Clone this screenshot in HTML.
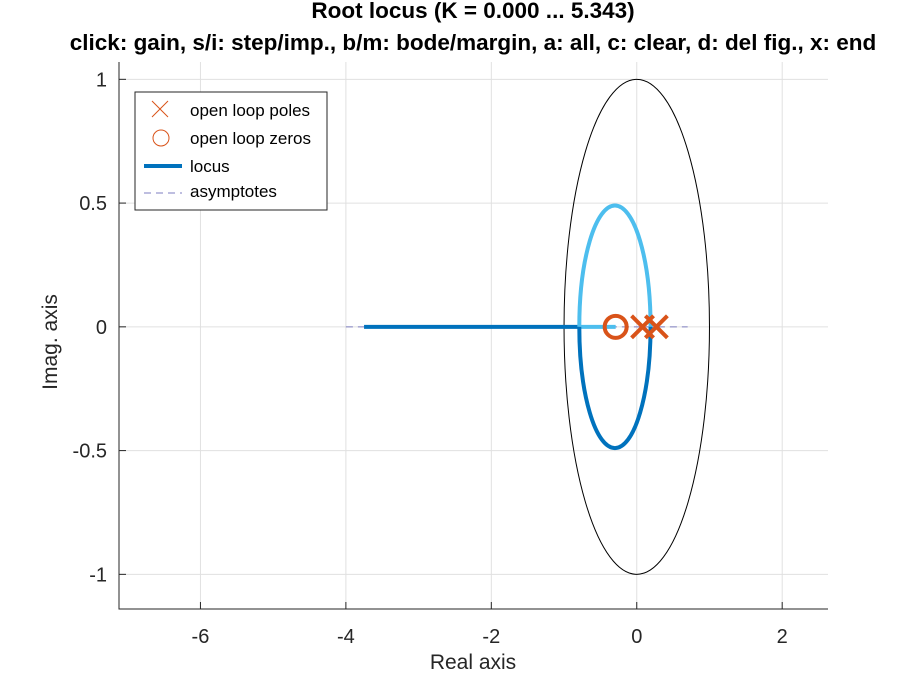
<!DOCTYPE html>
<html><head><meta charset="utf-8"><style>
body{margin:0;background:#fff}
svg text{font-family:"Liberation Sans",Arial,sans-serif}
</style></head><body>
<svg id="c" width="915" height="685" xmlns="http://www.w3.org/2000/svg">
<text x="473" y="18" text-anchor="middle" font-size="22.5" font-weight="bold" fill="#000">Root locus (K = 0.000 ... 5.343)</text>
<text x="473" y="50" text-anchor="middle" font-size="22.5" font-weight="bold" fill="#000">click: gain, s/i: step/imp., b/m: bode/margin, a: all, c: clear, d: del fig., x: end</text>
<g id="grid"></g><g id="marks"></g><g id="axes"></g>
<text x="473" y="669" text-anchor="middle" font-size="21" fill="#262626">Real axis</text>
<text transform="translate(57,342) rotate(-90)" text-anchor="middle" font-size="21" fill="#262626">Imag. axis</text>
<g>
<rect x="135" y="92" width="192" height="118" fill="#fff" stroke="#262626" stroke-width="1"/>
<g><path d="M152,101 L168,117 M168,101 L152,117" stroke="#d95319" stroke-width="1"/><text x="190" y="116" font-size="17" fill="#000">open loop poles</text></g>
<g><circle cx="161" cy="138" r="8" fill="none" stroke="#d95319" stroke-width="1"/><text x="190" y="144" font-size="17" fill="#000">open loop zeros</text></g>
<g><line x1="144" y1="166" x2="182" y2="166" stroke="#0072bd" stroke-width="4"/><text x="190" y="172" font-size="17" fill="#000">locus</text></g>
<g><line x1="144" y1="193" x2="182" y2="193" stroke="#7e7ec0" stroke-width="1" stroke-dasharray="7,5"/><text x="190" y="197" font-size="17" fill="#000">asymptotes</text></g>
</g>
</svg>
<script>
const xTicks=[-6,-4,-2,0,2];
const yTicks=[-1,-0.5,0,0.5,1];
const yTickLabels=["-1","-0.5","0","0.5","1"];
const poles=[0.08,0.27];
const zeros=[-0.29];
const realLocusStart=-3.75, breakIn=-0.79, breakOut=0.19;
const locusCenter=-0.3, locusRadius=0.49;
const asymptoteRange=[-4,0.7];
const unitEllipse=[1,1];
const xDom=[-7.12,2.63], yDom=[-1.14,1.07];
const L=119,R=828,T=62,B=609;
const X=v=>L+(v-xDom[0])/(xDom[1]-xDom[0])*(R-L);
const Y=v=>B-(v-yDom[0])/(yDom[1]-yDom[0])*(B-T);
const NS="http://www.w3.org/2000/svg";
function mk(p,tag,a){const e=document.createElementNS(NS,tag);for(const k in a)e.setAttribute(k,a[k]);document.getElementById(p).appendChild(e);return e;}
xTicks.forEach((t,i)=>{
 let g=mk('grid','line',{x1:X(t),x2:X(t),y1:T,y2:B,stroke:'#e0e0e0','stroke-width':1});
 
 
 let k=mk('axes','line',{x1:X(t),x2:X(t),y1:B,y2:B-7,stroke:'#262626'});
 
 
 let l=mk('axes','text',{x:X(t),y:B+34,'text-anchor':'middle','font-size':20,fill:'#262626'});l.textContent=String(t);
 
 
});
yTicks.forEach((t,i)=>{
 let g=mk('grid','line',{x1:L,x2:R,y1:Y(t),y2:Y(t),stroke:'#e0e0e0','stroke-width':1});
 
 
 let k=mk('axes','line',{x1:L,x2:L+7,y1:Y(t),y2:Y(t),stroke:'#262626'});
 
 
 let l=mk('axes','text',{x:L-12,y:Y(t)+7,'text-anchor':'end','font-size':20,fill:'#262626'});l.textContent=yTickLabels[i];
 
 
});
let ax=mk('axes','path',{d:`M${L},${T} L${L},${B} L${R},${B}`,fill:'none',stroke:'#262626','stroke-width':1});


let el=mk('marks','ellipse',{cx:X(0),cy:Y(0),rx:X(unitEllipse[0])-X(0),ry:Y(0)-Y(unitEllipse[1]),fill:'none',stroke:'#000','stroke-width':1});


let as=mk('marks','line',{x1:X(asymptoteRange[0]),x2:X(asymptoteRange[1]),y1:Y(0),y2:Y(0),stroke:'#7e7ec0','stroke-width':1,'stroke-dasharray':'7,5'});


let rl=mk('marks','line',{x1:X(realLocusStart),x2:X(breakIn),y1:Y(0),y2:Y(0),stroke:'#0072bd','stroke-width':4});


let rl2=mk('marks','line',{x1:X(breakIn),x2:X(zeros[0]),y1:Y(0),y2:Y(0),stroke:'#4dbeee','stroke-width':4});


const rx=X(locusCenter+locusRadius)-X(locusCenter), ry=Y(0)-Y(locusRadius);
let up=mk('marks','path',{d:`M${X(breakIn)},${Y(0)} A${rx},${ry} 0 0 1 ${X(breakOut)},${Y(0)}`,fill:'none',stroke:'#4dbeee','stroke-width':4});


let dn=mk('marks','path',{d:`M${X(breakIn)},${Y(0)} A${rx},${ry} 0 0 0 ${X(breakOut)},${Y(0)}`,fill:'none',stroke:'#0072bd','stroke-width':4});


zeros.forEach(z=>{
 let c=mk('marks','circle',{cx:X(z),cy:Y(0),r:11,fill:'none',stroke:'#d95319','stroke-width':4});
 
 
});
poles.forEach(p=>{
 const x=X(p),y=Y(0),s=11;
 let m=mk('marks','path',{d:`M${x-s},${y-s} L${x+s},${y+s} M${x+s},${y-s} L${x-s},${y+s}`,stroke:'#d95319','stroke-width':4});
 
 
});
</script>
</body></html>
